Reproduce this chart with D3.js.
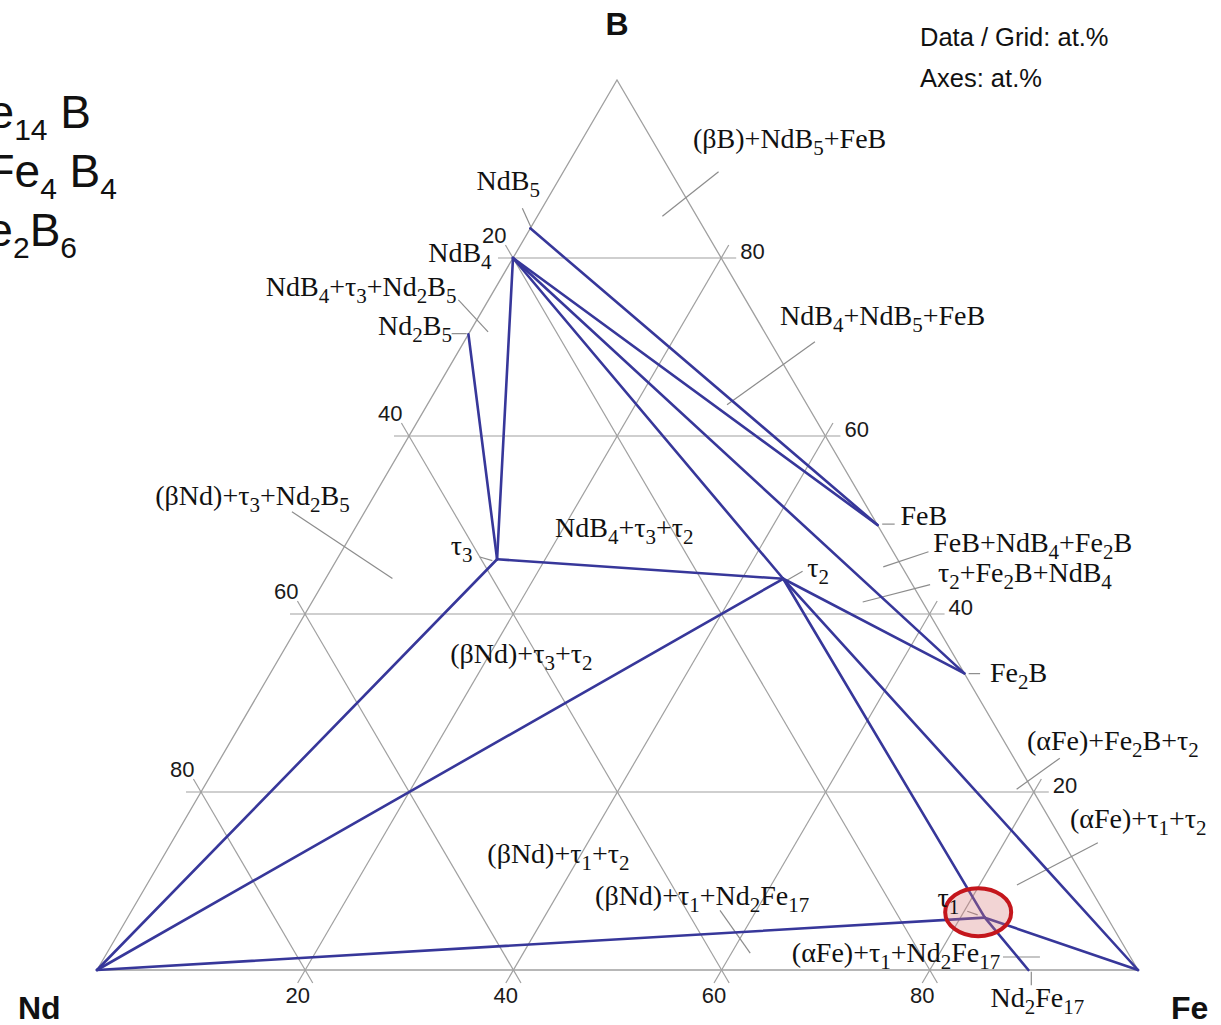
<!DOCTYPE html>
<html>
<head>
<meta charset="utf-8">
<script src="https://cdn.jsdelivr.net/npm/d3@7"></script>
<style>
  body { margin: 0; background: #fff; overflow: hidden; }
  svg { display: block; }
</style>
</head>
<body>
<svg id="drawing_region"></svg>
<script>
// Nd-Fe-B isothermal section, compositions in at.% (Nd = 100 - Fe - B)
const gridTicks = [20, 40, 60, 80];
const phaseNames = ['Nd', 'Fe', 'B', 'NdB5', 'NdB4', 'Nd2B5', 'FeB', 'Fe2B', 'τ3', 'τ2', 'τ1', 'Nd2Fe17'];
const phaseFe = [0, 100, 0, 0, 0, 0, 50, 66.67, 15.38, 43.96, 82.35, 89.47];
const phaseB  = [0, 0, 100, 83.33, 80, 71.43, 50, 33.33, 46.15, 43.96, 5.88, 0];
const tieLines = [
    ['NdB5', 'FeB'], ['NdB4', 'FeB'], ['NdB4', 'Fe2B'], ['NdB4', 'τ2'],
    ['NdB4', 'τ3'], ['Nd2B5', 'τ3'], ['τ3', 'τ2'], ['Nd', 'τ3'], ['Nd', 'τ2'],
    ['τ2', 'Fe2B'], ['τ2', 'Fe'], ['τ2', 'τ1'], ['τ1', 'Nd2Fe17'],
    ['Nd', 'τ1'], ['τ1', 'Fe']
];
const legendLines = ['Nd_2Fe_14 B', 'Nd_1.1Fe_4 B_4', 'Nd_5Fe_2B_6'];
const unitLines = ['Data / Grid: at.%', 'Axes: at.%'];
const regionNames = [
    '(βB)+NdB_5+FeB', 'NdB_5', 'NdB_4', 'NdB_4+τ_3+Nd_2B_5', 'Nd_2B_5',
    'NdB_4+NdB_5+FeB', '(βNd)+τ_3+Nd_2B_5', 'NdB_4+τ_3+τ_2', 'τ_3', 'FeB',
    'FeB+NdB_4+Fe_2B', 'τ_2+Fe_2B+NdB_4', 'τ_2', '(βNd)+τ_3+τ_2', 'Fe_2B',
    '(αFe)+Fe_2B+τ_2', '(αFe)+τ_1+τ_2', '(βNd)+τ_1+τ_2', '(βNd)+τ_1+Nd_2Fe_17',
    'τ_1', '(αFe)+τ_1+Nd_2Fe_17', 'Nd_2Fe_17'
];

// label placement in at.% (Fe, B): text anchor, then leader line
const labelLayout = {
    '(βB)+NdB_5+FeB': { at: [11.1, 92.4], leader: [[14.9, 89.7], [12.0, 84.7]] },
    'NdB_5': { at: [-7.3, 87.6], leader: [[-1.9, 85.6], [0.05, 83.4]] },
    'NdB_4': { at: [-7.9, 79.5] },
    'NdB_4+τ_3+Nd_2B_5': { at: [-21.6, 75.7], leader: [[-2.9, 75.3], [1.75, 71.7]] },
    'Nd_2B_5': { at: [-8.65, 71.35], leader: [[-1.65, 71.5], [-0.2, 71.5]] },
    'NdB_4+NdB_5+FeB': { at: [29.4, 72.5], leader: [[33.7, 70.6], [28.8, 63.5]] },
    '(βNd)+τ_3+Nd_2B_5': { at: [-20.5, 52.25], leader: [[-7.0, 51.5], [6.4, 44.0]] },
    'NdB_4+τ_3+τ_2': { at: [19.7, 48.65] },
    'τ_3': { at: [10.7, 46.6], leader: [[13.6, 46.4], [15.0, 46.0]] },
    'FeB': { at: [52.2, 50.0], leader: [[50.4, 50.1], [51.6, 50.1]] },
    'FeB+NdB_4+Fe_2B': { at: [56.85, 47.0], leader: [[56.4, 47.0], [52.9, 45.3]] },
    'τ_2+Fe_2B+NdB_4': { at: [59.0, 43.6], leader: [[58.4, 43.3], [52.9, 41.35]] },
    'τ_2': { at: [46.15, 44.2], leader: [[44.4, 43.8], [45.4, 44.8]] },
    '(βNd)+τ_3+τ_2': { at: [16.7, 34.5] },
    'Fe_2B': { at: [69.6, 32.4], leader: [[67.1, 33.3], [68.2, 33.3]] },
    '(αFe)+Fe_2B+τ_2': { at: [77.0, 24.7], leader: [[80.6, 23.8], [78.2, 20.3]] },
    '(αFe)+τ_1+τ_2': { at: [85.5, 15.96], leader: [[89.0, 14.3], [83.6, 9.55]] },
    '(βNd)+τ_1+τ_2': { at: [31.5, 12.0] },
    '(βNd)+τ_1+Nd_2Fe_17': { at: [44.2, 7.3], leader: [[56.5, 6.7], [61.8, 1.9]] },
    'τ_1': { at: [77.2, 7.1], leader: [[80.3, 6.6], [81.5, 6.2]] },
    '(αFe)+τ_1+Nd_2Fe_17': { at: [66.3, 0.9], leader: [[86.3, 1.46], [89.85, 1.46]] },
    'Nd_2Fe_17': { at: [87.9, -4.16], leader: [[89.85, -0.2], [90.6, -1.7]] }
};
const highlightAt = [81.4, 6.5];

class TernaryPlot {
    constructor(config) {
        this.config = config;
        this.init();
    }

    init() {
        let self = this;
        const c = self.config;
        self.svg = d3.select(c.parent)
            .attr('width', c.width)
            .attr('height', c.height);

        // Fe runs along the base, B lifts the point toward the apex
        self.xFe = d3.scaleLinear().domain([0, 100]).range([0, c.base]);
        self.xB = d3.scaleLinear().domain([0, 100]).range([0, c.apexX - c.left]);
        self.yB = d3.scaleLinear().domain([0, 100]).range([c.bottom, c.top]);
        self.pos = (fe, b) => [c.left + self.xFe(fe) + self.xB(b), self.yB(b)];

        self.phase = {};
        phaseNames.forEach((n, i) => { self.phase[n] = self.pos(phaseFe[i], phaseB[i]); });
    }

    // stretch a segment by e px at both ends
    extend(p, q, e) {
        const dx = q[0] - p[0], dy = q[1] - p[1];
        const l = Math.hypot(dx, dy);
        return [[p[0] - dx / l * e, p[1] - dy / l * e], [q[0] + dx / l * e, q[1] + dy / l * e]];
    }

    richText(sel, str, subSize, shift) {
        const parts = str.split(/_([\d.]+)/);
        parts.forEach((t, i) => {
            if (t === '') return;
            const sub = i % 2 === 1;
            const prevSub = i > 0 && (i - 1) % 2 === 1;
            const ts = sel.append('tspan').text(t);
            if (sub) ts.attr('font-size', subSize).attr('dy', shift);
            else if (prevSub) ts.attr('dy', -shift);
        });
    }

    render() {
        let self = this;
        const c = self.config;
        const ext = 15;
        const gridColor = '#a0a0a0';

        // grid lines of constant B, Fe and Nd
        const grid = [];
        gridTicks.forEach(t => {
            grid.push({ axis: 'B', t: t, seg: self.extend(self.pos(0, t), self.pos(100 - t, t), ext) });
            grid.push({ axis: 'Fe', t: t, seg: self.extend(self.pos(t, 0), self.pos(t, 100 - t), ext) });
            grid.push({ axis: 'Nd', t: t, seg: self.extend(self.pos(100 - t, 0), self.pos(0, 100 - t), ext) });
        });
        self.svg.append('g').selectAll('line').data(grid).join('line')
            .attr('x1', d => d.seg[0][0]).attr('y1', d => d.seg[0][1])
            .attr('x2', d => d.seg[1][0]).attr('y2', d => d.seg[1][1])
            .attr('stroke', gridColor).attr('stroke-width', 1.2);

        self.svg.append('path')
            .attr('d', d3.line()([self.phase['Nd'], self.phase['Fe'], self.phase['B']]) + 'Z')
            .attr('fill', 'none').attr('stroke', gridColor).attr('stroke-width', 1.3);

        // axis numbers at the grid ends
        const axisFont = 'Liberation Sans, Arial, sans-serif';
        const tickText = self.svg.append('g')
            .attr('font-family', axisFont).attr('font-size', 22).attr('fill', '#1a1a1a');
        grid.forEach(d => {
            let x, y, anchor;
            if (d.axis === 'B') { x = d.seg[1][0] + 4; y = d.seg[1][1] + 1; anchor = 'start'; }
            else if (d.axis === 'Nd') { x = d.seg[1][0] + 1; y = d.seg[1][1] - 2; anchor = 'end'; }
            else { x = d.seg[0][0]; y = d.seg[0][1] + 20; anchor = 'middle'; }
            tickText.append('text').attr('x', x).attr('y', y)
                .attr('text-anchor', anchor).text(d.t);
        });

        // leader lines
        const leaders = regionNames.filter(n => labelLayout[n].leader);
        self.svg.append('g').selectAll('line').data(leaders).join('line')
            .attr('x1', n => self.pos(...labelLayout[n].leader[0])[0])
            .attr('y1', n => self.pos(...labelLayout[n].leader[0])[1])
            .attr('x2', n => self.pos(...labelLayout[n].leader[1])[0])
            .attr('y2', n => self.pos(...labelLayout[n].leader[1])[1])
            .attr('stroke', '#8c8c8c').attr('stroke-width', 1.2);

        // tie lines
        self.svg.append('g').selectAll('path').data(tieLines).join('path')
            .attr('d', d => d3.line()([self.phase[d[0]], self.phase[d[1]]]))
            .attr('stroke', '#37379a').attr('stroke-width', 2.6)
            .attr('fill', 'none').attr('stroke-linecap', 'round');

        // highlight round the τ1 corner
        const h = self.pos(...highlightAt);
        self.svg.append('ellipse')
            .attr('cx', h[0]).attr('cy', h[1]).attr('rx', 33).attr('ry', 24)
            .attr('fill', 'rgba(214, 120, 120, 0.32)')
            .attr('stroke', '#c4161c').attr('stroke-width', 4);

        // region / phase labels
        const labelG = self.svg.append('g')
            .attr('font-family', 'Liberation Serif, Times New Roman, serif')
            .attr('font-size', 28).attr('fill', '#111');
        regionNames.forEach(n => {
            const p = self.pos(...labelLayout[n].at);
            const t = labelG.append('text').attr('x', p[0]).attr('y', p[1]);
            self.richText(t, n, 21, 7);
        });

        // vertex names
        const vtx = self.svg.append('g')
            .attr('font-family', axisFont).attr('font-weight', 'bold')
            .attr('font-size', 32).attr('fill', '#111');
        vtx.append('text').attr('x', c.apexX).attr('y', 35).attr('text-anchor', 'middle').text('B');
        vtx.append('text').attr('x', 18).attr('y', 1019).text('Nd');
        vtx.append('text').attr('x', 1171).attr('y', 1019).text('Fe');

        // units note
        self.svg.append('g').selectAll('text').data(unitLines).join('text')
            .attr('x', 920).attr('y', (d, i) => 46 + i * 41)
            .attr('font-family', axisFont).attr('font-size', 25.5).attr('fill', '#111')
            .text(d => d);

        // legend, cut by the page edge on the left
        const legendEnds = [91, 117, 77];
        legendLines.forEach((s, i) => {
            const t = self.svg.append('text')
                .attr('x', legendEnds[i]).attr('y', 128 + i * 59)
                .attr('text-anchor', 'end')
                .attr('font-family', axisFont).attr('font-size', 46).attr('fill', '#111');
            self.richText(t, s, 30, 12);
        });
    }
}

const plot = new TernaryPlot({
    parent: '#drawing_region',
    width: 1221,
    height: 1025,
    left: 97,
    base: 1041,
    apexX: 617,
    top: 80,
    bottom: 970
});
plot.render();
</script>
</body>
</html>
